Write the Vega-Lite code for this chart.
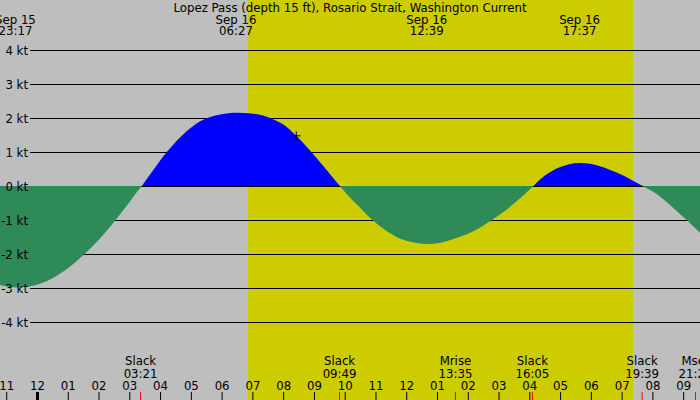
{
  "$schema": "https://vega.github.io/schema/vega-lite/v6.json",
  "width": 700,
  "height": 400,
  "padding": 0,
  "autosize": {"type": "fit", "contains": "padding"},
  "background": "#bebebe",
  "config": {
    "view": {"stroke": null},
    "text": {"font": "DejaVu Sans", "fontSize": 11.75, "color": "#000000", "baseline": "middle"}
  },
  "datasets": {
    "day": [{"rise": 6.841, "set": 19.353}],
    "levels": [
      {"level": 4, "label": "4 kt"},
      {"level": 3, "label": "3 kt"},
      {"level": 2, "label": "2 kt"},
      {"level": 1, "label": "1 kt"},
      {"level": 0, "label": "0 kt"},
      {"level": -1, "label": "-1 kt"},
      {"level": -2, "label": "-2 kt"},
      {"level": -3, "label": "-3 kt"},
      {"level": -4, "label": "-4 kt"}
    ],
    "flow": [
      {"t": -1.25, "v": -2.89, "lobe": "e1", "dir": "ebb"},
      {"t": -1.0, "v": -2.94, "lobe": "e1", "dir": "ebb"},
      {"t": -0.65, "v": -2.97, "lobe": "e1", "dir": "ebb"},
      {"t": -0.3, "v": -2.94, "lobe": "e1", "dir": "ebb"},
      {"t": 0.0, "v": -2.88, "lobe": "e1", "dir": "ebb"},
      {"t": 0.5, "v": -2.69, "lobe": "e1", "dir": "ebb"},
      {"t": 1.0, "v": -2.4, "lobe": "e1", "dir": "ebb"},
      {"t": 1.5, "v": -2.01, "lobe": "e1", "dir": "ebb"},
      {"t": 2.0, "v": -1.56, "lobe": "e1", "dir": "ebb"},
      {"t": 2.5, "v": -1.03, "lobe": "e1", "dir": "ebb"},
      {"t": 3.0, "v": -0.45, "lobe": "e1", "dir": "ebb"},
      {"t": 3.2, "v": -0.2, "lobe": "e1", "dir": "ebb"},
      {"t": 3.38, "v": 0, "lobe": "e1", "dir": "ebb"},
      {"t": 3.38, "v": 0, "lobe": "f1", "dir": "flood"},
      {"t": 3.77, "v": 0.49, "lobe": "f1", "dir": "flood"},
      {"t": 4.18, "v": 0.99, "lobe": "f1", "dir": "flood"},
      {"t": 4.64, "v": 1.45, "lobe": "f1", "dir": "flood"},
      {"t": 5.07, "v": 1.79, "lobe": "f1", "dir": "flood"},
      {"t": 5.45, "v": 1.99, "lobe": "f1", "dir": "flood"},
      {"t": 5.94, "v": 2.12, "lobe": "f1", "dir": "flood"},
      {"t": 6.48, "v": 2.17, "lobe": "f1", "dir": "flood"},
      {"t": 7.02, "v": 2.14, "lobe": "f1", "dir": "flood"},
      {"t": 7.62, "v": 1.99, "lobe": "f1", "dir": "flood"},
      {"t": 8.1, "v": 1.75, "lobe": "f1", "dir": "flood"},
      {"t": 8.41, "v": 1.49, "lobe": "f1", "dir": "flood"},
      {"t": 8.92, "v": 0.99, "lobe": "f1", "dir": "flood"},
      {"t": 9.41, "v": 0.47, "lobe": "f1", "dir": "flood"},
      {"t": 9.84, "v": 0, "lobe": "f1", "dir": "flood"},
      {"t": 9.84, "v": 0, "lobe": "e2", "dir": "ebb"},
      {"t": 10.16, "v": -0.33, "lobe": "e2", "dir": "ebb"},
      {"t": 10.38, "v": -0.53, "lobe": "e2", "dir": "ebb"},
      {"t": 10.9, "v": -1.0, "lobe": "e2", "dir": "ebb"},
      {"t": 11.3, "v": -1.28, "lobe": "e2", "dir": "ebb"},
      {"t": 11.68, "v": -1.49, "lobe": "e2", "dir": "ebb"},
      {"t": 12.2, "v": -1.64, "lobe": "e2", "dir": "ebb"},
      {"t": 12.65, "v": -1.69, "lobe": "e2", "dir": "ebb"},
      {"t": 13.1, "v": -1.655, "lobe": "e2", "dir": "ebb"},
      {"t": 13.63, "v": -1.51, "lobe": "e2", "dir": "ebb"},
      {"t": 14.2, "v": -1.3, "lobe": "e2", "dir": "ebb"},
      {"t": 14.74, "v": -1.0, "lobe": "e2", "dir": "ebb"},
      {"t": 15.2, "v": -0.71, "lobe": "e2", "dir": "ebb"},
      {"t": 15.58, "v": -0.43, "lobe": "e2", "dir": "ebb"},
      {"t": 15.85, "v": -0.21, "lobe": "e2", "dir": "ebb"},
      {"t": 16.1, "v": 0, "lobe": "e2", "dir": "ebb"},
      {"t": 16.1, "v": 0, "lobe": "f2", "dir": "flood"},
      {"t": 16.49, "v": 0.32, "lobe": "f2", "dir": "flood"},
      {"t": 16.93, "v": 0.55, "lobe": "f2", "dir": "flood"},
      {"t": 17.25, "v": 0.65, "lobe": "f2", "dir": "flood"},
      {"t": 17.63, "v": 0.69, "lobe": "f2", "dir": "flood"},
      {"t": 18.01, "v": 0.66, "lobe": "f2", "dir": "flood"},
      {"t": 18.55, "v": 0.51, "lobe": "f2", "dir": "flood"},
      {"t": 19.09, "v": 0.3, "lobe": "f2", "dir": "flood"},
      {"t": 19.53, "v": 0.08, "lobe": "f2", "dir": "flood"},
      {"t": 19.69, "v": 0, "lobe": "f2", "dir": "flood"},
      {"t": 19.69, "v": 0, "lobe": "e3", "dir": "ebb"},
      {"t": 20.0, "v": -0.15, "lobe": "e3", "dir": "ebb"},
      {"t": 20.455, "v": -0.46, "lobe": "e3", "dir": "ebb"},
      {"t": 20.8, "v": -0.74, "lobe": "e3", "dir": "ebb"},
      {"t": 21.12, "v": -1.0, "lobe": "e3", "dir": "ebb"},
      {"t": 21.54, "v": -1.37, "lobe": "e3", "dir": "ebb"},
      {"t": 21.6, "v": -1.42, "lobe": "e3", "dir": "ebb"}
    ],
    "maxima": [
      {"t": -0.717, "date": "Sep 15", "time": "23:17"},
      {"t": 6.45, "date": "Sep 16", "time": "06:27"},
      {"t": 12.65, "date": "Sep 16", "time": "12:39"},
      {"t": 17.617, "date": "Sep 16", "time": "17:37"}
    ],
    "events": [
      {"t": 3.35, "name": "Slack", "time": "03:21"},
      {"t": 9.817, "name": "Slack", "time": "09:49"},
      {"t": 13.583, "name": "Mrise", "time": "13:35"},
      {"t": 16.083, "name": "Slack", "time": "16:05"},
      {"t": 19.65, "name": "Slack", "time": "19:39"},
      {"t": 21.383, "name": "Mset", "time": "21:23"}
    ],
    "hours": [
      {"t": -1, "label": "11"}, {"t": 0, "label": "12"}, {"t": 1, "label": "01"},
      {"t": 2, "label": "02"}, {"t": 3, "label": "03"}, {"t": 4, "label": "04"},
      {"t": 5, "label": "05"}, {"t": 6, "label": "06"}, {"t": 7, "label": "07"},
      {"t": 8, "label": "08"}, {"t": 9, "label": "09"}, {"t": 10, "label": "10"},
      {"t": 11, "label": "11"}, {"t": 12, "label": "12"}, {"t": 13, "label": "01"},
      {"t": 14, "label": "02"}, {"t": 15, "label": "03"}, {"t": 16, "label": "04"},
      {"t": 17, "label": "05"}, {"t": 18, "label": "06"}, {"t": 19, "label": "07"},
      {"t": 20, "label": "08"}, {"t": 21, "label": "09"}
    ],
    "now": [{"t": 8.41, "v": 1.49}],
    "heading": [{"t": 10.156, "label": "Lopez Pass (depth 15 ft), Rosario Strait, Washington Current"}]
  },
  "layer": [
    {
      "data": {"name": "day"},
      "mark": {"type": "rect", "color": "#cccc00", "clip": true},
      "encoding": {
        "x": {"field": "rise", "type": "quantitative", "scale": {"domain": [-1.2187, 21.531], "nice": false, "zero": false}, "axis": null},
        "x2": {"field": "set"}
      }
    },
    {
      "data": {"name": "levels"},
      "mark": {"type": "rule", "color": "#000000", "strokeWidth": 1, "clip": true},
      "encoding": {
        "y": {"field": "level", "type": "quantitative", "scale": {"domain": [-6.2794, 5.4853], "nice": false, "zero": false}, "axis": null},
        "x": {"datum": -0.2437, "type": "quantitative"},
        "x2": {"datum": 21.531}
      }
    },
    {
      "data": {"name": "flow"},
      "mark": {"type": "area", "interpolate": "monotone", "clip": true},
      "encoding": {
        "x": {"field": "t", "type": "quantitative"},
        "y": {"field": "v", "type": "quantitative", "stack": null},
        "y2": {"datum": 0.0147},
        "detail": {"field": "lobe"},
        "color": {"field": "dir", "type": "nominal", "scale": {"domain": ["flood", "ebb"], "range": ["#0000ff", "#2e8b57"]}, "legend": null}
      }
    },
    {
      "data": {"name": "levels"},
      "mark": {"type": "text", "align": "right", "clip": true},
      "encoding": {
        "x": {"datum": -0.3087, "type": "quantitative"},
        "y": {"field": "level", "type": "quantitative"},
        "text": {"field": "label"}
      }
    },
    {
      "data": {"name": "hours"},
      "mark": {"type": "rule", "color": "#000000", "clip": true},
      "encoding": {
        "x": {"field": "t", "type": "quantitative"},
        "y": {"datum": -6.044, "type": "quantitative"},
        "y2": {"datum": -6.2794},
        "strokeWidth": {"condition": {"test": "datum.t == 0", "value": 3}, "value": 1}
      }
    },
    {
      "data": {"name": "events"},
      "mark": {"type": "rule", "color": "#ff0000", "strokeWidth": 1, "clip": true},
      "encoding": {
        "x": {"field": "t", "type": "quantitative"},
        "y": {"datum": -6.044, "type": "quantitative"},
        "y2": {"datum": -6.2794}
      }
    },
    {
      "data": {"name": "hours"},
      "mark": {"type": "text", "align": "center", "clip": true},
      "encoding": {
        "x": {"field": "t", "type": "quantitative"},
        "y": {"datum": -5.862, "type": "quantitative"},
        "text": {"field": "label"}
      }
    },
    {
      "data": {"name": "events"},
      "mark": {"type": "text", "align": "center", "clip": true},
      "encoding": {
        "x": {"field": "t", "type": "quantitative"},
        "y": {"datum": -5.147, "type": "quantitative"},
        "text": {"field": "name"}
      }
    },
    {
      "data": {"name": "events"},
      "mark": {"type": "text", "align": "center", "clip": true},
      "encoding": {
        "x": {"field": "t", "type": "quantitative"},
        "y": {"datum": -5.506, "type": "quantitative"},
        "text": {"field": "time"}
      }
    },
    {
      "data": {"name": "maxima"},
      "mark": {"type": "text", "align": "center", "clip": true},
      "encoding": {
        "x": {"field": "t", "type": "quantitative"},
        "y": {"datum": 4.897, "type": "quantitative"},
        "text": {"field": "date"}
      }
    },
    {
      "data": {"name": "maxima"},
      "mark": {"type": "text", "align": "center", "clip": true},
      "encoding": {
        "x": {"field": "t", "type": "quantitative"},
        "y": {"datum": 4.565, "type": "quantitative"},
        "text": {"field": "time"}
      }
    },
    {
      "data": {"name": "heading"},
      "mark": {"type": "text", "align": "center", "clip": true},
      "encoding": {
        "x": {"field": "t", "type": "quantitative"},
        "y": {"datum": 5.25, "type": "quantitative"},
        "text": {"field": "label"}
      }
    },
    {
      "data": {"name": "now"},
      "mark": {"type": "point", "shape": "M-1,0L1,0M0,-1L0,1", "filled": false, "size": 81, "color": "#000000", "strokeWidth": 1, "opacity": 1, "clip": true},
      "encoding": {
        "x": {"field": "t", "type": "quantitative"},
        "y": {"field": "v", "type": "quantitative"}
      }
    }
  ]
}
